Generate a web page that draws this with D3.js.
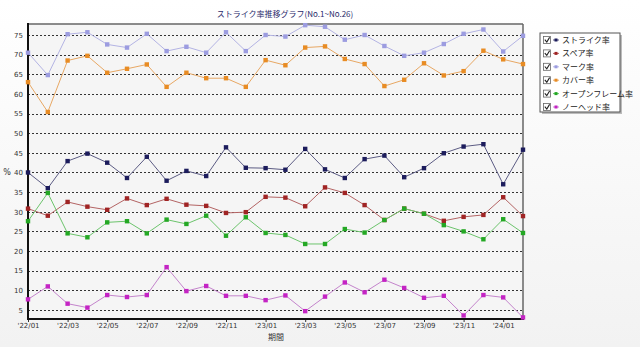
<!DOCTYPE html>
<html><head><meta charset="utf-8">
<script src="https://cdn.jsdelivr.net/npm/d3@7"></script>
<style>
body{margin:0;background:#fff;}
svg{display:block;}
</style></head>
<body>
<svg id="c" width="640" height="347"></svg>
<script>
const months = ["'22/01","'22/02","'22/03","'22/04","'22/05","'22/06","'22/07","'22/08","'22/09","'22/10","'22/11","'22/12",
"'23/01","'23/02","'23/03","'23/04","'23/05","'23/06","'23/07","'23/08","'23/09","'23/10","'23/11","'23/12","'24/01","'24/02"];
const tickLabels = ["'22/01","'22/03","'22/05","'22/07","'22/09","'22/11","'23/01","'23/03","'23/05","'23/07","'23/09","'23/11","'24/01"];
const yTicks = [5,10,15,20,25,30,35,40,45,50,55,60,65,70,75];
const seriesNames = ["ストライク率","スペア率","マーク率","カバー率","オープンフレーム率","ノーヘッド率"];
const strike = [40.0,36.0,42.9,44.8,42.5,38.6,44.0,37.9,40.4,39.1,46.4,41.2,41.1,40.7,46.0,40.8,38.6,43.4,44.3,38.8,41.1,44.9,46.6,47.2,37.0,45.8];
const spare  = [30.8,29.0,32.5,31.3,30.5,33.4,31.7,33.3,31.8,31.5,29.7,29.9,33.8,33.6,31.4,36.2,34.8,31.7,27.9,30.8,29.5,27.7,28.7,29.2,33.7,28.9];
const mark   = [70.5,64.8,75.2,75.7,72.6,71.8,75.3,70.9,72.0,70.5,75.7,70.9,75.0,74.6,77.5,77.1,73.8,75.0,72.2,69.7,70.5,72.7,75.3,76.4,70.8,74.8];
const cover  = [63.0,55.4,68.5,69.7,65.4,66.4,67.5,61.8,65.4,64.0,64.0,61.8,68.6,67.3,71.8,72.1,68.9,67.6,62.0,63.6,67.8,64.7,65.8,71.0,68.8,67.6];
const open   = [27.6,34.8,24.5,23.5,27.3,27.6,24.5,28.0,26.9,29.0,23.9,28.6,24.6,24.1,21.8,21.8,25.6,24.7,27.9,30.8,29.5,26.6,25.0,23.0,28.1,24.6];
const nohead = [7.7,11.0,6.6,5.6,8.8,8.3,8.8,15.9,9.8,11.1,8.6,8.6,7.5,8.7,4.7,8.4,12.0,9.5,12.7,10.6,8.1,8.6,3.6,8.8,8.2,3.1];
const allSeries = [strike,spare,mark,cover,open,nohead];
const markerColors = ["#1c1c5c","#a02424","#9c9ce0","#e88c24","#24a824","#c424c4"];
const lineColors   = ["#5c5c84","#b46464","#b4b4e4","#e8a864","#6cc46c","#c484cc"];

const svg = d3.select("#c");
const defs = svg.append("defs");
const bg = defs.append("linearGradient").attr("id","bg").attr("x1",0).attr("y1",0).attr("x2",0).attr("y2",1);
bg.append("stop").attr("offset","0%").attr("stop-color","#ffffff");
bg.append("stop").attr("offset","100%").attr("stop-color","#f2f2f2");
svg.append("rect").attr("width",640).attr("height",347).attr("fill","url(#bg)");

const L=28, R=523, T=24, B=319;
const x = d3.scalePoint().domain(months).range([L,R]);
const y = d3.scaleLinear().domain([2.7,77.8]).range([B,T]);

svg.append("rect").attr("x",L).attr("y",T).attr("width",R-L).attr("height",B-T).attr("fill","#f5f5f5");

// grid
svg.append("g").selectAll("line").data(yTicks).join("line")
  .attr("x1",L).attr("x2",R).attr("y1",d=>Math.round(y(d))+0.5).attr("y2",d=>Math.round(y(d))+0.5)
  .attr("stroke","#333").attr("stroke-width",1).attr("stroke-dasharray","2,2");

// y axis
const ya = svg.append("g").attr("transform",`translate(${L},0)`)
  .call(d3.axisLeft(y).tickValues(yTicks).tickSize(0).tickPadding(5));
ya.select(".domain").remove();
ya.selectAll("text").attr("font-family","DejaVu Sans").attr("font-size",7).attr("fill","#333");

// x axis
const xa = svg.append("g").attr("transform",`translate(0,${B})`)
  .call(d3.axisBottom(x).tickValues(tickLabels).tickSize(3).tickPadding(1));
xa.select(".domain").remove();
xa.selectAll("line").attr("stroke","#333");
xa.selectAll("text").attr("font-family","DejaVu Sans").attr("font-size",7).attr("fill","#333");

// border
svg.append("line").attr("x1",L).attr("x2",R).attr("y1",T).attr("y2",T).attr("stroke","#666").attr("stroke-width",1.5);
svg.append("line").attr("x1",R).attr("x2",R).attr("y1",T).attr("y2",B).attr("stroke","#666").attr("stroke-width",1.5);
svg.append("line").attr("x1",L).attr("x2",L).attr("y1",T-1).attr("y2",B+1).attr("stroke","#111").attr("stroke-width",2);
svg.append("line").attr("x1",L-1).attr("x2",R+1).attr("y1",B).attr("y2",B).attr("stroke","#111").attr("stroke-width",2);

// series
const line = d3.line().x((d,i)=>x(months[i])).y(d=>y(d));
const order = [2,3,0,1,4,5];
order.forEach(k=>{
  const g = svg.append("g");
  g.append("path").attr("d",line(allSeries[k])).attr("fill","none").attr("stroke",lineColors[k]).attr("stroke-width",1);
  g.selectAll("rect").data(allSeries[k]).join("rect")
    .attr("x",(d,i)=>x(months[i])-2.2).attr("y",d=>y(d)-2.2).attr("width",4.4).attr("height",4.4)
    .attr("fill",markerColors[k]);
});

// titles
svg.append("text").attr("x",285).attr("y",17).attr("text-anchor","middle")
  .attr("font-family","Noto Sans CJK JP").attr("font-size",8).attr("fill","#2a2a6a")
  .text("ストライク率推移グラフ(No.1~No.26)");
svg.append("text").attr("x",7).attr("y",175).attr("text-anchor","middle")
  .attr("font-family","DejaVu Sans").attr("font-size",8).attr("fill","#333").text("%");
svg.append("text").attr("x",276).attr("y",340).attr("text-anchor","middle")
  .attr("font-family","Noto Sans CJK JP").attr("font-size",8).attr("fill","#333").text("期間");

// legend
const lg = svg.append("g");
lg.append("rect").attr("x",542).attr("y",35).attr("width",80).attr("height",79).attr("fill","#bbb");
lg.append("rect").attr("x",540).attr("y",33).attr("width",80).attr("height",79).attr("fill","#fff").attr("stroke","#555").attr("stroke-width",1);
seriesNames.forEach((n,i)=>{
  const cy = 40 + i*13.4;
  lg.append("rect").attr("x",543.5).attr("y",cy-3.5).attr("width",7).attr("height",7).attr("fill","#fff").attr("stroke","#666").attr("stroke-width",0.8);
  lg.append("path").attr("d",`M544.8,${cy-0.3} L546.8,${cy+2} L549.6,${cy-2.6}`).attr("fill","none").attr("stroke","#222").attr("stroke-width",1.1);
  lg.append("line").attr("x1",553).attr("x2",559).attr("y1",cy).attr("y2",cy).attr("stroke",lineColors[i]).attr("stroke-width",1);
  lg.append("rect").attr("x",554.5).attr("y",cy-1.5).attr("width",3).attr("height",3).attr("fill",markerColors[i]);
  lg.append("text").attr("x",562).attr("y",cy+3).attr("font-family","Noto Sans CJK JP").attr("font-size",8).attr("fill","#222").text(n);
});
</script>
</body></html>
